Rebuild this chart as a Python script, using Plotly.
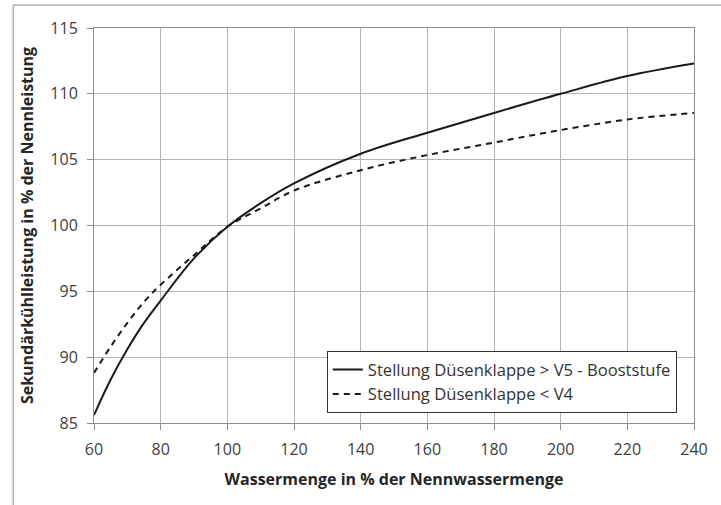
import plotly.graph_objects as go

x_vals = [60, 65, 70, 75, 80, 90, 100, 110, 120, 140, 160, 180, 200, 220, 240]
solid_vals = [85.6, 88.3, 90.6, 92.6, 94.3, 97.5, 99.9, 101.7, 103.2, 105.45, 107.05, 108.55, 110.0, 111.35, 112.3]
dashed_vals = [88.8, 90.8, 92.6, 94.2, 95.5, 97.75, 99.9, 101.3, 102.65, 104.2, 105.35, 106.3, 107.25, 108.05, 108.55]

name_solid = "Stellung Düsenklappe > V5 - Booststufe"
name_dashed = "Stellung Düsenklappe < V4"

x_ticks = list(range(60, 241, 20))
y_ticks = list(range(85, 116, 5))

font_family = "Open Sans, Liberation Sans, sans-serif"

fig = go.Figure()
fig.add_trace(go.Scatter(x=x_vals, y=solid_vals, mode="lines", name=name_solid,
                         line=dict(color="#1a1a1a", width=2, shape="spline", smoothing=1.0)))
fig.add_trace(go.Scatter(x=x_vals, y=dashed_vals, mode="lines", name=name_dashed,
                         line=dict(color="#1a1a1a", width=2, dash="6px,5px", shape="spline", smoothing=1.0)))

fig.update_layout(
    width=721, height=505,
    margin=dict(l=94, r=27, t=28, b=82),
    paper_bgcolor="white", plot_bgcolor="white",
    font=dict(family=font_family, color="#333333", size=14),
    showlegend=True,
    legend=dict(x=0.388, y=0.025, xanchor="left", yanchor="bottom",
                bgcolor="white", bordercolor="#333333", borderwidth=1,
                font=dict(size=16.6, color="#333333"), tracegroupgap=0,
                itemwidth=30),
    xaxis=dict(range=[60, 240], tickvals=x_ticks, showgrid=True, gridcolor="#b3b3b3", gridwidth=1,
               showline=True, linecolor="#8c8c8c", linewidth=1, mirror=True,
               ticks="outside", ticklen=6, tickcolor="#8c8c8c",
               tickfont=dict(size=16, color="#404040"), zeroline=False,
               ticklabelstandoff=6,
               title=dict(text="<b>Wassermenge in % der Nennwassermenge</b>",
                          font=dict(size=16, color="#262626"), standoff=14)),
    yaxis=dict(range=[85, 115], tickvals=y_ticks, showgrid=True, gridcolor="#b3b3b3", gridwidth=1,
               showline=True, linecolor="#8c8c8c", linewidth=1, mirror=True,
               ticks="outside", ticklen=6, tickcolor="#8c8c8c",
               tickfont=dict(size=16, color="#404040"), zeroline=False,
               ticklabelstandoff=6,
               title=dict(text="<b>Sekundärkühlleistung in % der Nennleistung</b>",
                          font=dict(size=16, color="#262626"), standoff=12)),
)

# outer frame lines (top and left) of the cropped chart area
fig.add_shape(type="line", xref="paper", yref="paper", x0=-0.135, x1=1.05, y0=1.058, y1=1.058,
              line=dict(color="#8c8c8c", width=1))
fig.add_shape(type="line", xref="paper", yref="paper", x0=-0.1347, x1=-0.1347, y0=-0.21, y1=1.058,
              line=dict(color="#8c8c8c", width=1))

fig.write_html("out.html")
